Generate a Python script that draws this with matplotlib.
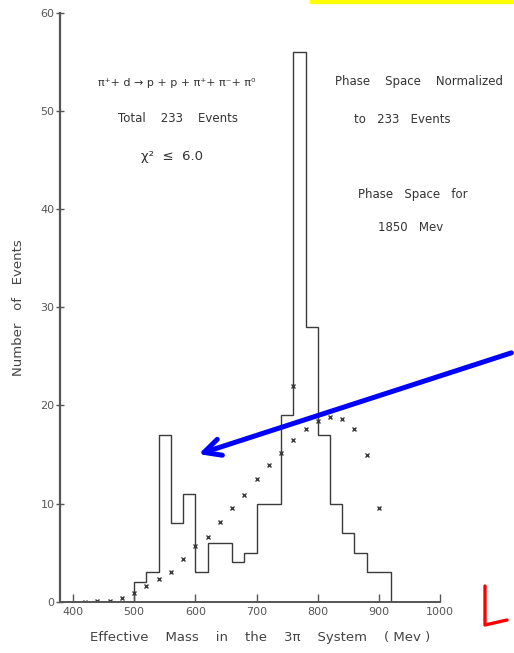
import numpy as np
import matplotlib.pyplot as plt
from matplotlib.patches import Rectangle, FancyArrowPatch
from matplotlib.lines import Line2D

# 3-pion effective mass histogram, 20 MeV bins
edges = np.arange(480, 921, 20)
counts = [0, 2, 3, 17, 8, 11, 3, 6, 6, 4, 5, 10, 10, 19, 56, 28, 17, 10, 7, 5, 3, 3]

# phase space curve (1850 MeV), normalized to 233 events
ps_mass = [420, 440, 460, 480, 500, 520, 540, 560, 580, 600, 620, 640, 660, 680,
           700, 720, 740, 760, 780, 800, 820, 840, 860, 880, 900]
ps_events = [0.0, 0.05, 0.1, 0.35, 0.85, 1.55, 2.3, 3.0, 4.3, 5.7, 6.6, 8.1, 9.5, 10.9,
             12.5, 13.9, 15.2, 16.5, 17.6, 18.4, 18.8, 18.6, 17.6, 15.0, 9.5]
extra_mass = [760]
extra_events = [22.0]

ink = '#3a3a3a'
fig = plt.figure(figsize=(5.14, 6.53), dpi=100)
ax = fig.add_axes([0.1167, 0.0786, 0.7457, 0.9014])

ax.stairs(counts, edges, color=ink, linewidth=1.0)
ax.plot(ps_mass, ps_events, 'x', color=ink, markersize=2.5, markeredgewidth=1.0)
ax.plot(extra_mass, extra_events, 'x', color=ink, markersize=2.5, markeredgewidth=1.0)

ax.set_xlim(379, 1005)
ax.set_ylim(0, 60)
ax.spines['top'].set_visible(False)
ax.spines['right'].set_visible(False)
ax.spines['left'].set_color('#555555')
ax.spines['bottom'].set_color('#555555')
ax.spines['left'].set_linewidth(1.6)
ax.spines['bottom'].set_linewidth(1.4)
ax.spines['bottom'].set_bounds(379, 1000)

ax.set_xticks([400, 500, 600, 700, 800, 900, 1000])
ax.set_yticks([0, 10, 20, 30, 40, 50, 60])
ax.tick_params(axis='x', direction='in', length=6, width=1, colors='#555555',
               labelsize=8, pad=4)
ax.tick_params(axis='y', direction='inout', length=6, width=1, colors='#555555',
               labelsize=8, pad=1)

ax.set_ylabel('Number   of   Events', fontsize=9.5, color='#444444', labelpad=11)
ax.set_xlabel('Effective    Mass    in    the    3\u03c0    System    ( Mev )',
              fontsize=9.5, color='#444444', labelpad=10)
ax.xaxis.label.set_x(0.522)

txt = dict(fontsize=8.5, color='#333333', ha='center', va='center', clip_on=False)
ax.text(569, 52.9, '\u03c0\u207a+ d \u2192 p + p + \u03c0\u207a+ \u03c0\u207b+ \u03c0\u2070',
        fontsize=8, color='#333333', ha='center', va='center')
ax.text(571, 49.3, 'Total    233    Events', **txt)
ax.text(562, 45.4, '\u03c7\u00b2  \u2264  6.0', fontsize=9.5, color='#333333',
        ha='center', va='center')
ax.text(965, 53.0, 'Phase    Space    Normalized', **txt)
ax.text(938, 49.1, 'to   233   Events', **txt)
ax.text(955, 41.5, 'Phase   Space   for', **txt)
ax.text(951, 38.1, '1850   Mev', **txt)

# highlight strip, arrow and margin mark
fig.patches.append(Rectangle((310 / 514, 1 - 3 / 653), 203 / 514, 3 / 653,
                             transform=fig.transFigure, color='#ffff00',
                             zorder=5))
arrow = FancyArrowPatch((1.0, 1 - 352 / 653), (196 / 514, 1 - 455 / 653),
                        transform=fig.transFigure, arrowstyle='->',
                        mutation_scale=30, color='#0000ff', linewidth=3.6,
                        zorder=6)
fig.patches.append(arrow)
fig.lines.append(Line2D([485 / 514, 485 / 514, 507 / 514],
                        [1 - 586 / 653, 1 - 625 / 653, 1 - 620 / 653],
                        transform=fig.transFigure, color='#ff0000',
                        linewidth=2.4, solid_capstyle='round',
                        solid_joinstyle='round'))

plt.savefig('out.png', dpi=100)
